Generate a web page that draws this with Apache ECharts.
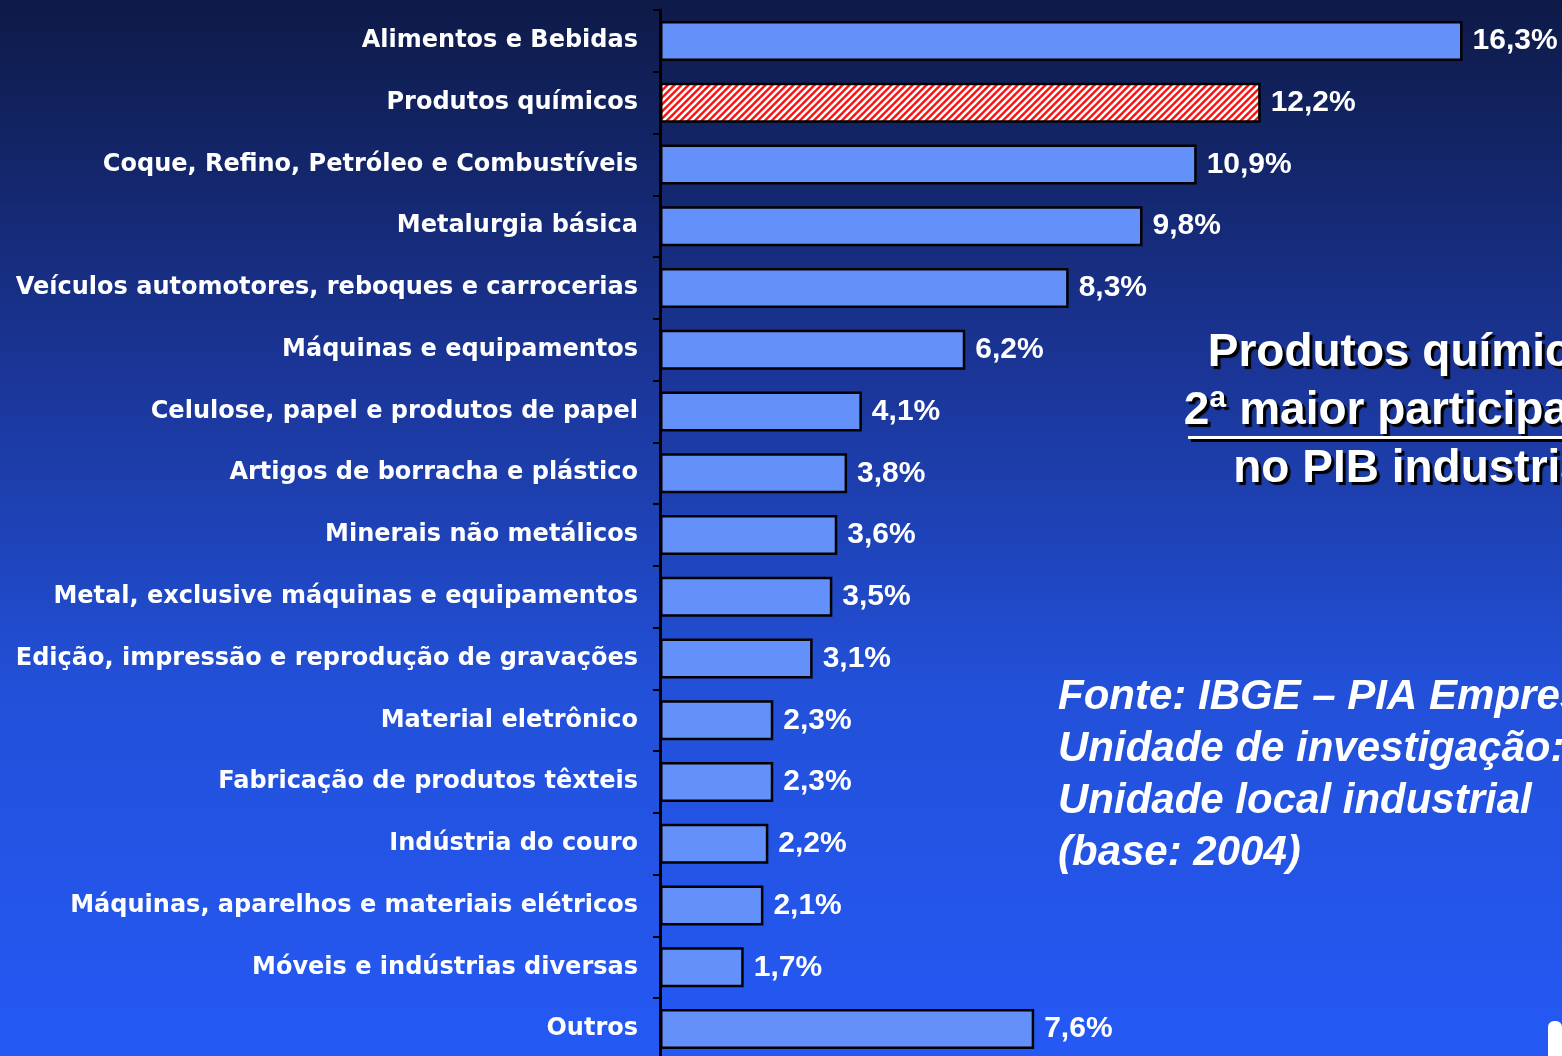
<!DOCTYPE html>
<html>
<head>
<meta charset="utf-8">
<script src="https://cdn.jsdelivr.net/npm/echarts@6/dist/echarts.min.js"></script>
<style>
    html, body { margin: 0; padding: 0; }
    #chart { width: 1562px; height: 1056px; }
</style>
</head>
<body>
<div id="chart"></div>
<script>
(function (window) {
    "use strict";

    // 类别与数值（自上而下）
    var categories = [
        'Alimentos e Bebidas',
        'Produtos químicos',
        'Coque, Refino, Petróleo e Combustíveis',
        'Metalurgia básica',
        'Veículos automotores, reboques e carrocerias',
        'Máquinas e equipamentos',
        'Celulose, papel e produtos de papel',
        'Artigos de borracha e plástico',
        'Minerais não metálicos',
        'Metal, exclusive máquinas e equipamentos',
        'Edição, impressão e reprodução de gravações',
        'Material eletrônico',
        'Fabricação de produtos têxteis',
        'Indústria do couro',
        'Máquinas, aparelhos e materiais elétricos',
        'Móveis e indústrias diversas',
        'Outros'
    ];
    var values = [16.3, 12.2, 10.9, 9.8, 8.3, 6.2, 4.1, 3.8, 3.6, 3.5, 3.1, 2.3, 2.3, 2.2, 2.1, 1.7, 7.6];
    var highlight = 'Produtos químicos';

    var titleLines = ['Produtos químicos', '2ª maior participação', 'no PIB industrial'];
    var sourceLines = [
        'Fonte: IBGE – PIA Empresa',
        'Unidade de investigação:',
        'Unidade local industrial',
        '(base: 2004)'
    ];

    var font = "'Liberation Sans', Arial, sans-serif";
    var labelFont = "'DejaVu Sans', sans-serif";

    /**
     * 红白斜线填充
     */
    var hatch = (function () {
        var s = 7;
        var c = document.createElement('canvas');
        c.width = s;
        c.height = s;
        var ctx = c.getContext('2d');
        ctx.fillStyle = '#ff1010';
        ctx.fillRect(0, 0, s, s);
        ctx.strokeStyle = '#ffffff';
        ctx.lineWidth = 2.6;
        ctx.beginPath();
        ctx.moveTo(0, s); ctx.lineTo(s, 0);
        ctx.moveTo(-1, 1); ctx.lineTo(1, -1);
        ctx.moveTo(s - 1, s + 1); ctx.lineTo(s + 1, s - 1);
        ctx.stroke();
        return c;
    })();

    var barData = values.map(function (v, i) {
        var item = { value: v };
        if (categories[i] === highlight) {
            item.itemStyle = { color: { image: hatch, repeat: 'repeat' } };
        }
        return item;
    });

    var graphics = [];
    titleLines.forEach(function (t, i) {
        graphics.push({
            type: 'text',
            x: 1416,
            y: 353 + i * 58,
            style: {
                text: t,
                font: 'bold 46px ' + font,
                fill: '#ffffff',
                textAlign: 'center',
                textVerticalAlign: 'middle',
                textShadowColor: '#000000',
                textShadowOffsetX: 3,
                textShadowOffsetY: 3,
                textShadowBlur: 1
            },
            z: 10
        });
    });
    // 第二行下划线
    graphics.push({
        type: 'rect',
        shape: { x: 1188, y: 436, width: 380, height: 3 },
        style: { fill: '#ffffff', shadowColor: '#000', shadowOffsetX: 3, shadowOffsetY: 3 },
        z: 10
    });
    sourceLines.forEach(function (t, i) {
        graphics.push({
            type: 'text',
            x: 1058,
            y: 697 + i * 52,
            style: {
                text: t,
                font: 'italic bold 42px ' + font,
                fill: '#ffffff',
                textAlign: 'left',
                textVerticalAlign: 'middle'
            },
            z: 10
        });
    });
    graphics.push({
        type: 'rect',
        shape: { x: 1548, y: 1021, width: 14, height: 45, r: 6 },
        style: { fill: '#ffffff' },
        z: 10
    });

    var myChart = echarts.init(document.getElementById('chart'));
    var option = {
        animation: false,
        backgroundColor: {
            type: 'linear', x: 0, y: 0, x2: 0, y2: 1,
            colorStops: [
                { offset: 0, color: '#0e1a48' },
                { offset: 0.35, color: '#1a3596' },
                { offset: 0.65, color: '#2250d8' },
                { offset: 1, color: '#2559f5' }
            ]
        },
        grid: {
            left: 660,
            top: 10,
            right: 1,
            height: 1050,
            outerBoundsMode: 'none'
        },
        xAxis: {
            type: 'value',
            min: 0,
            max: 18.3,
            show: false
        },
        yAxis: {
            type: 'category',
            data: categories,
            inverse: true,
            axisLine: { show: true, lineStyle: { color: '#000000', width: 3 } },
            axisTick: { show: true, length: 7, lineStyle: { color: '#000000', width: 2 } },
            axisLabel: {
                color: '#ffffff',
                fontFamily: labelFont,
                fontWeight: 'bold',
                fontSize: 24,
                margin: 22,
                padding: [4, 0, 0, 0]
            }
        },
        series: [
            {
                type: 'bar',
                data: barData,
                barWidth: 40,
                itemStyle: {
                    color: '#6490fa',
                    borderColor: '#000000',
                    borderWidth: 2.5
                },
                label: {
                    show: true,
                    position: 'right',
                    distance: 10,
                    color: '#ffffff',
                    fontFamily: font,
                    fontWeight: 'bold',
                    fontSize: 30,
                    formatter: function (p) {
                        return p.value.toFixed(1).replace('.', ',') + '%';
                    }
                }
            }
        ],
        graphic: graphics
    };
    myChart.setOption(option);

})(window);
</script>
</body>
</html>
